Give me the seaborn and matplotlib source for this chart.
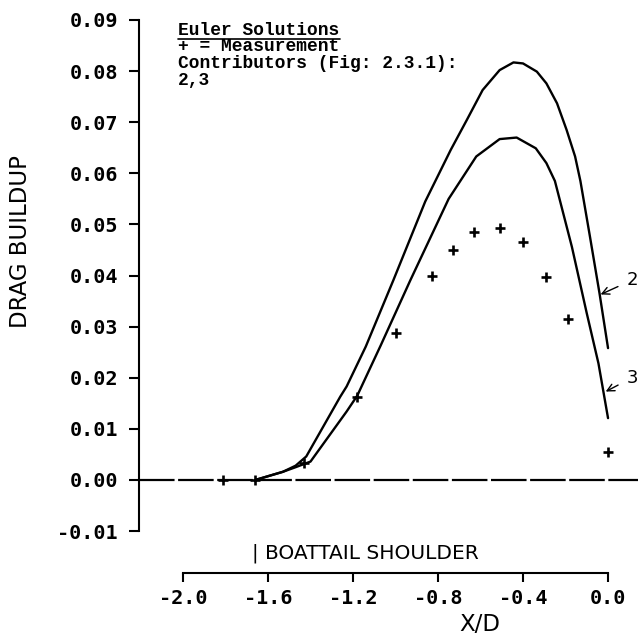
import matplotlib
matplotlib.use("Agg")
import matplotlib.pyplot as plt
from matplotlib.lines import Line2D
import numpy as np
import pandas as pd
import seaborn as sns

# Euler solution curves (contributors 2 and 3)
sol2_x = [-1.66, -1.53, -1.47, -1.42, -1.26, -1.23, -1.14, -1.01, -0.86, -0.74,
          -0.665, -0.59, -0.51, -0.445, -0.40, -0.335, -0.29, -0.24, -0.195,
          -0.155, -0.13, -0.085, -0.04, 0.0]
sol2_y = [0.0, 0.0016, 0.0028, 0.0046, 0.0163, 0.0183, 0.0261, 0.0391, 0.0545, 0.0646,
          0.0704, 0.0763, 0.0802, 0.0817, 0.0815, 0.0799, 0.0776, 0.0737, 0.0685,
          0.0633, 0.0585, 0.0476, 0.0365, 0.0258]

sol3_x = [-1.66, -1.53, -1.47, -1.40, -1.23, -1.18, -1.07, -0.93, -0.75, -0.62,
          -0.51, -0.43, -0.34, -0.29, -0.25, -0.17, -0.10, -0.045, 0.0]
sol3_y = [0.0, 0.0016, 0.0025, 0.0036, 0.0134, 0.0165, 0.0263, 0.0391, 0.0550, 0.0633,
          0.0667, 0.0670, 0.0649, 0.0620, 0.0585, 0.0456, 0.0326, 0.0228, 0.0121]

# Measured drag buildup
meas_x = [-1.81, -1.66, -1.43, -1.18, -1.00, -0.83, -0.73, -0.63, -0.51, -0.40,
          -0.29, -0.19, 0.00]
meas_y = [0.0, 0.0, 0.0033, 0.0162, 0.0288, 0.0399, 0.0450, 0.0485, 0.0494, 0.0465,
          0.0397, 0.0315, 0.0055]

y_ticks = [-0.01, 0.00, 0.01, 0.02, 0.03, 0.04, 0.05, 0.06, 0.07, 0.08, 0.09]
x_ticks = [-2.0, -1.6, -1.2, -0.8, -0.4, 0.0]

legend_lines = ["Euler Solutions", "+ = Measurement",
                "Contributors (Fig: 2.3.1):", "2,3"]

sns.set_theme(style="ticks")
plt.rcParams["font.family"] = ["DejaVu Sans"]
plt.rcParams["axes.unicode_minus"] = True
plt.rcParams["text.color"] = "black"

W, H = 638, 635
fig = plt.figure(figsize=(W / 100, H / 100), dpi=100)
fig.patch.set_facecolor("white")
ax = fig.add_axes([139 / W, 62 / H, 499 / W, 553 / H])
ax.set_facecolor("white")

curves = pd.concat([
    pd.DataFrame({"x": sol2_x, "y": sol2_y, "contrib": "2"}),
    pd.DataFrame({"x": sol3_x, "y": sol3_y, "contrib": "3"}),
])
sns.lineplot(data=curves, x="x", y="y", hue="contrib", palette=["black", "black"],
             estimator=None, sort=False, linewidth=1.7, legend=False, ax=ax)

ax.axhline(0.0, color="black", linewidth=1.6, linestyle=(0, (16, 1.6)), zorder=1)

sns.scatterplot(x=meas_x, y=meas_y, marker="+", s=60, color="black",
                linewidth=1.9, ax=ax, zorder=4, legend=False)

ax.set_xlim(-2.207, 0.141)
ax.set_ylim(-0.0182, 0.09)

sns.despine(ax=ax)
for side in ("left", "bottom"):
    ax.spines[side].set_linewidth(1.5)
    ax.spines[side].set_color("black")
ax.spines["left"].set_bounds(-0.01, 0.09)
ax.spines["bottom"].set_bounds(-2.0, 0.0)

ax.set_yticks(y_ticks)
ax.set_yticklabels([f"{v:.2f}" for v in y_ticks])
ax.set_xticks(x_ticks)
ax.set_xticklabels([f"{v:.1f}" for v in x_ticks])
ax.tick_params(axis="y", direction="out", length=7.2, width=1.5, pad=8.0,
               labelsize=14.5, colors="black")
ax.tick_params(axis="x", direction="out", length=6.5, width=1.5, pad=5.0,
               labelsize=14.5, colors="black")
for lab in ax.get_xticklabels() + ax.get_yticklabels():
    lab.set_family("DejaVu Sans Mono")
    lab.set_weight("bold")

ax.set_ylabel("DRAG BUILDUP", fontsize=16.5, color="black")
ax.yaxis.set_label_coords(-0.214, 0.60)
ax.set_xlabel("X/D", fontsize=16.5, color="black")
ax.xaxis.set_label_coords(0.683, -0.072)

ax.text(-1.675, -0.0143, "| BOATTAIL SHOULDER", ha="left", va="center",
        fontsize=14.5, color="black", clip_on=False)

arrow = dict(arrowstyle="->", color="black", lw=1.0, shrinkA=4, shrinkB=0)
ax.annotate("2", xy=(-0.035, 0.0363), xytext=(0.113, 0.0391), ha="center",
            va="center", fontsize=13, color="black", arrowprops=arrow,
            annotation_clip=False)
ax.annotate("3", xy=(-0.011, 0.0173), xytext=(0.113, 0.0200), ha="center",
            va="center", fontsize=13, color="black", arrowprops=arrow,
            annotation_clip=False)

# Legend block in the upper left
baselines = [35, 51, 68, 85]
for txt, b in zip(legend_lines, baselines):
    fig.text(178 / W, 1 - b / H, txt, family="Liberation Mono", weight="bold",
             fontsize=12.9, va="baseline", ha="left", color="black")
fig.add_artist(Line2D([178 / W, 340 / W], [1 - 38.5 / H, 1 - 38.5 / H],
                      color="black", linewidth=1.2))

fig.savefig("out.png", dpi=100, facecolor="white")
